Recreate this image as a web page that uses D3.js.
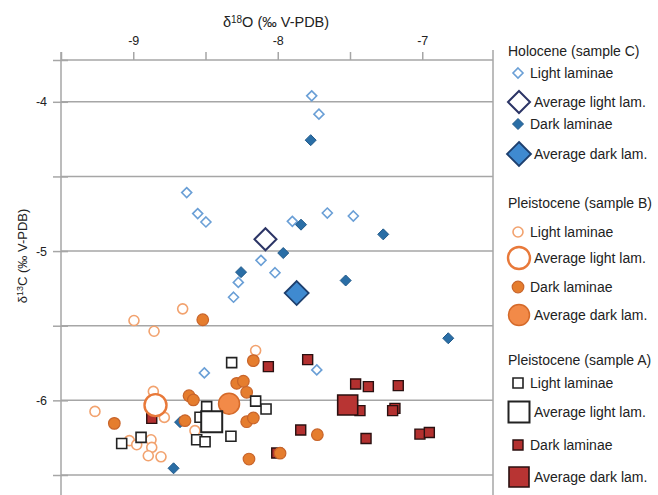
<html>
<head>
<meta charset="utf-8">
<title>d18O vs d13C</title>
<script src="https://cdn.jsdelivr.net/npm/d3@7"></script>
<style>
  body { margin: 0; background: #fff; }
  text { font-family: "Liberation Sans", Arial, sans-serif; fill: #222; }
</style>
</head>
<body>
<svg id="chart"></svg>
<script>
// values: [d18O, d13C]
const holoLight = [[-7.765,-3.96],[-7.715,-4.083],[-8.63,-4.608],[-8.554,-4.749],[-8.497,-4.805],
  [-7.899,-4.801],[-7.657,-4.745],[-7.477,-4.765],[-8.116,-5.062],[-8.019,-5.145],[-8.273,-5.21],
  [-8.306,-5.309],[-8.508,-5.816],[-7.73,-5.796]];
const holoDark = [[-7.772,-4.257],[-7.839,-4.823],[-7.27,-4.888],[-7.962,-5.013],[-8.254,-5.141],
  [-7.53,-5.197],[-6.82,-5.584],[-8.676,-6.146],[-8.721,-6.455]];
const holoAvgLight = [[-8.085,-4.921]];
const holoAvgDark = [[-7.869,-5.281]];

const plbLight = [[-8.658,-5.387],[-8.995,-5.465],[-8.856,-5.537],[-8.153,-5.666],[-8.861,-5.94],
  [-9.265,-6.074],[-8.785,-6.114],[-9.027,-6.27],[-8.976,-6.297],[-8.877,-6.264],[-8.872,-6.315],
  [-8.896,-6.371],[-8.808,-6.378],[-8.573,-6.203]];
const plbDark = [[-8.519,-5.46],[-8.169,-5.734],[-8.284,-5.886],[-8.238,-5.872],[-8.215,-5.946],
  [-8.614,-5.969],[-8.584,-5.997],[-8.642,-6.136],[-9.131,-6.154],[-8.215,-6.143],[-8.169,-6.118],
  [-8.199,-6.393],[-7.726,-6.23],[-7.984,-6.354]];
const plbAvgLight = [[-8.846,-6.032]];
const plbAvgDark = [[-8.337,-6.022]];

const plaLight = [[-8.319,-5.747],[-8.153,-6.005],[-8.081,-6.058],[-8.492,-6.042],[-8.538,-6.113],
  [-8.324,-6.24],[-8.561,-6.264],[-8.503,-6.277],[-9.08,-6.289],[-8.946,-6.248]];
const plaDark = [[-8.065,-5.774],[-8.872,-6.121],[-7.793,-5.727],[-7.461,-5.89],[-7.373,-5.908],
  [-7.166,-5.901],[-7.431,-6.069],[-7.189,-6.054],[-7.205,-6.069],[-7.841,-6.199],[-7.389,-6.255],
  [-7.016,-6.226],[-6.951,-6.215],[-8.007,-6.353]];
const plaAvgLight = [[-8.457,-6.143]];
const plaAvgDark = [[-7.516,-6.031]];

const xTicks = [-9.5, -9, -8.5, -8, -7.5, -7];
const yTicks = [-4, -4.5, -5, -5.5, -6, -6.5];

const groupTitles = ['Holocene (sample C)', 'Pleistocene (sample B)', 'Pleistocene (sample A)'];
const entryLabels = ['Light laminae', 'Average light lam.', 'Dark laminae', 'Average dark lam.'];

// marker styles
const styles = {
  holoLight:    {shape: 'diamond', s: 5,   fill: '#fff',    stroke: '#6a9fd6', sw: 1.6},
  holoAvgLight: {shape: 'diamond', s: 11,  fill: '#fff',    stroke: '#2c3566', sw: 2},
  holoDark:     {shape: 'diamond', s: 5.5, fill: '#2a6ea6', stroke: '#215a8a', sw: 1},
  holoAvgDark:  {shape: 'diamond', s: 12,  fill: '#3f8ad0', stroke: '#1d3f6e', sw: 1.8},
  plbLight:     {shape: 'circle',  s: 5,   fill: '#fff',    stroke: '#f2a26e', sw: 1.6},
  plbAvgLight:  {shape: 'circle',  s: 11,  fill: '#fff',    stroke: '#e8793a', sw: 2.4},
  plbDark:      {shape: 'circle',  s: 5.8, fill: '#e57d2e', stroke: '#c8642a', sw: 1.2},
  plbAvgDark:   {shape: 'circle',  s: 10.5,fill: '#f28a48', stroke: '#d56a2a', sw: 1.5},
  plaLight:     {shape: 'square',  s: 5,   fill: '#fff',    stroke: '#222',    sw: 1.6},
  plaAvgLight:  {shape: 'square',  s: 10.5,fill: '#fff',    stroke: '#222',    sw: 2},
  plaDark:      {shape: 'square',  s: 5,   fill: '#b3302f', stroke: '#2a1010', sw: 1.4},
  plaAvgDark:   {shape: 'square',  s: 10,  fill: '#b83433', stroke: '#2a1010', sw: 1.6}
};

const W = 658, H = 495;
const svg = d3.select('#chart').attr('width', W).attr('height', H);

const x = d3.scaleLinear().domain([-9.5, -6.5]).range([61, 494.5]);
const y = d3.scaleLinear().domain([-3.72, -6.5]).range([60, 475]);
const right = 493;

// gridlines
svg.append('g').selectAll('line')
  .data(yTicks)
  .join('line')
  .attr('x1', 61).attr('x2', right)
  .attr('y1', d => y(d)).attr('y2', d => y(d))
  .attr('stroke', '#a6a6a6').attr('stroke-width', 1.5);

// frame lines
svg.append('line').attr('x1', 61).attr('x2', right).attr('y1', 60).attr('y2', 60)
  .attr('stroke', '#a6a6a6').attr('stroke-width', 1.5);
svg.append('line').attr('x1', 61).attr('x2', 61).attr('y1', 52).attr('y2', H)
  .attr('stroke', '#a6a6a6').attr('stroke-width', 1.5);
svg.append('line').attr('x1', right).attr('x2', right).attr('y1', 50).attr('y2', H)
  .attr('stroke', '#a6a6a6').attr('stroke-width', 1.5);

// top axis
const xAxis = d3.axisTop(x).tickValues(xTicks).tickSize(8)
  .tickFormat(d => Number.isInteger(d) ? d : '');
const gx = svg.append('g').attr('transform', 'translate(0,60)').call(xAxis);
gx.select('.domain').remove();
gx.selectAll('line').attr('stroke', '#a6a6a6').attr('stroke-width', 1.5);
gx.selectAll('text').attr('font-size', 12.5).attr('dy', '-0.35em').style('fill', '#222');

// left axis, ticks cross the line
const yAxis = d3.axisLeft(y).tickValues([-3.72].concat(yTicks)).tickSizeInner(8).tickSizeOuter(0)
  .tickFormat(d => Number.isInteger(d) ? d : '');
const gy = svg.append('g').attr('transform', 'translate(61,0)').call(yAxis);
gy.select('.domain').remove();
gy.selectAll('line').attr('x2', -8).attr('x1', 7).attr('stroke', '#a6a6a6').attr('stroke-width', 1.5);
gy.selectAll('text').attr('font-size', 12.5).attr('x', -14).style('fill', '#222');

// axis titles
const xt = svg.append('text').attr('x', 276).attr('y', 27).attr('text-anchor', 'middle')
  .attr('font-size', 14.5);
xt.append('tspan').text('δ');
xt.append('tspan').attr('font-size', 10).attr('dy', -4).text('18');
xt.append('tspan').attr('dy', 4).text('O (‰ V-PDB)');

const yt = svg.append('text').attr('transform', 'translate(27,256) rotate(-90)')
  .attr('text-anchor', 'middle').attr('font-size', 13);
yt.append('tspan').text('δ');
yt.append('tspan').attr('font-size', 9).attr('dy', -4).text('13');
yt.append('tspan').attr('dy', 4).text('C (‰ V-PDB)');

function markerPath(shape, s) {
  if (shape === 'diamond') return `M0,${-s}L${s},0L0,${s}L${-s},0Z`;
  if (shape === 'square') return `M${-s},${-s}H${s}V${s}H${-s}Z`;
  return d3.arc()({innerRadius: 0, outerRadius: s, startAngle: 0, endAngle: 2 * Math.PI});
}

function drawSeries(data, key) {
  const st = styles[key];
  svg.append('g').selectAll('path')
    .data(data)
    .join('path')
    .attr('d', markerPath(st.shape, st.s))
    .attr('transform', d => `translate(${x(d[0])},${y(d[1])})`)
    .attr('fill', st.fill)
    .attr('stroke', st.stroke)
    .attr('stroke-width', st.sw);
}

drawSeries(plaDark, 'plaDark');
drawSeries(holoLight, 'holoLight');
drawSeries(holoDark, 'holoDark');
drawSeries(plbLight, 'plbLight');
drawSeries(plbDark, 'plbDark');
drawSeries(plaLight, 'plaLight');
drawSeries(holoAvgLight, 'holoAvgLight');
drawSeries(holoAvgDark, 'holoAvgDark');
drawSeries(plbAvgLight, 'plbAvgLight');
drawSeries(plbAvgDark, 'plbAvgDark');
drawSeries(plaAvgLight, 'plaAvgLight');
drawSeries(plaAvgDark, 'plaAvgDark');

// legend
const legendKeys = [
  ['holoLight', 'holoAvgLight', 'holoDark', 'holoAvgDark'],
  ['plbLight', 'plbAvgLight', 'plbDark', 'plbAvgDark'],
  ['plaLight', 'plaAvgLight', 'plaDark', 'plaAvgDark']
];
const titleY = [51, 203, 360];
const entryY = [[73, 102, 124, 154], [232, 258, 287, 315], [383, 412, 445, 477]];

groupTitles.forEach((t, gi) => {
  svg.append('text').attr('x', 508).attr('y', titleY[gi]).attr('dy', '0.35em')
    .attr('font-size', 14).text(t);
  legendKeys[gi].forEach((k, ei) => {
    const st = styles[k];
    const big = ei % 2 === 1;
    const cx = big ? 519 : 518;
    svg.append('path')
      .attr('d', markerPath(st.shape, st.s))
      .attr('transform', `translate(${cx},${entryY[gi][ei]})`)
      .attr('fill', st.fill).attr('stroke', st.stroke).attr('stroke-width', st.sw);
    svg.append('text').attr('x', big ? 534 : 530).attr('y', entryY[gi][ei]).attr('dy', '0.35em')
      .attr('font-size', 14).text(entryLabels[ei]);
  });
});
</script>
</body>
</html>
